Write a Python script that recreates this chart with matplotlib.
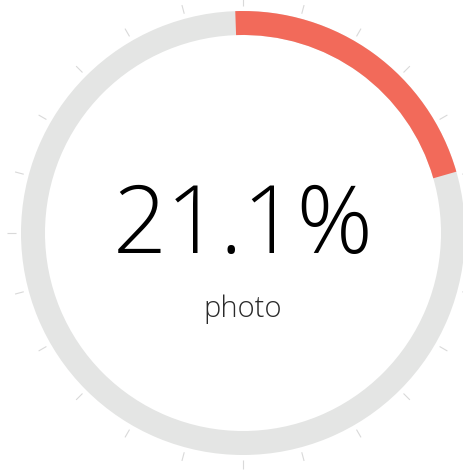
import matplotlib
matplotlib.use("Agg")
import matplotlib.pyplot as plt
from matplotlib.patches import Wedge
import numpy as np

# gauge data
value_pct = 21.1
label = "photo"
n_ticks = 24

W, H = 464, 471
CX, CY = 243, H - 233      # ring centre, y measured upward
R_OUT, WIDTH = 222, 24
START = -2.0               # degrees clockwise from 12 o'clock

RED = "#f26a5a"
GREY = "#e4e5e4"

fig = plt.figure(figsize=(W / 100, H / 100), dpi=100)
ax = fig.add_axes([0, 0, 1, 1])
ax.set_xlim(0, W)
ax.set_ylim(0, H)
ax.set_aspect("equal")
ax.axis("off")

# background ring
ax.add_patch(Wedge((CX, CY), R_OUT, 0, 360, width=WIDTH, color=GREY, lw=0))

# value arc, clockwise from the top
sweep = value_pct / 100 * 360
ax.add_patch(Wedge((CX, CY), R_OUT, 90 - (START + sweep), 90 - START,
                   width=WIDTH, color=RED, lw=0))

# small ticks outside the ring
for i in range(n_ticks):
    a = np.deg2rad(90 - i * 360 / n_ticks)
    r0, r1 = 227, 236
    ax.plot([CX + r0 * np.cos(a), CX + r1 * np.cos(a)],
            [CY + r0 * np.sin(a), CY + r1 * np.sin(a)],
            color="#d9d9d9", lw=0.8, solid_capstyle="butt")

ax.text(CX, H - 253, f"{value_pct}%", ha="center", va="baseline",
        fontsize=68, family="Open Sans", fontweight="light", color="#000000")
ax.text(CX, H - 317, label, ha="center", va="baseline",
        fontsize=21, family="Open Sans", fontweight="light", color="#2a2a2a")

fig.savefig("out.png", dpi=100)
